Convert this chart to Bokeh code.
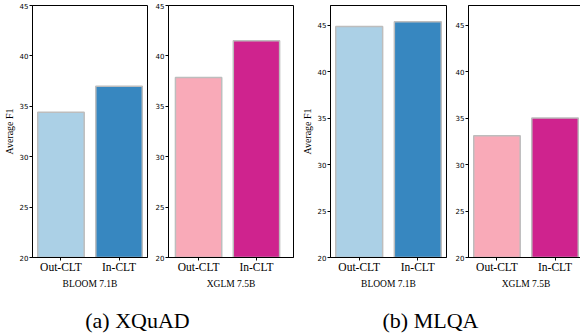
from bokeh.plotting import figure
from bokeh.layouts import row, column
from bokeh.models import Range1d, FixedTicker, ColumnDataSource
from bokeh.core.properties import value
from bokeh.embed import file_html
from bokeh.resources import INLINE

# ---- data ----
conditions = ["Out-CLT", "In-CLT"]
xquad_bloom = [34.4, 37.0]
xquad_xglm = [37.85, 41.5]
mlqa_bloom = [44.85, 45.35]
mlqa_xglm = [33.1, 35.0]
models = ["BLOOM 7.1B", "XGLM 7.5B"]
captions = ["(a) XQuAD", "(b) MLQA"]
y_ticks = [20, 25, 30, 35, 40, 45]
y_label = "Average F1"
blue_colors = ["#abd0e6", "#3787c0"]
pink_colors = ["#f9aab8", "#cf238e"]

SERIF = "Liberation Serif"
SANS = "DejaVu Sans"


def panel(values, colors, model, ylim, xlim, bl, fw, br, ylabel=None):
    p = figure(frame_width=fw, frame_height=252,
               min_border_left=bl, min_border_right=br,
               min_border_top=5, min_border_bottom=44,
               x_range=Range1d(*xlim), y_range=Range1d(*ylim),
               output_backend="svg", toolbar_location=None)
    src = ColumnDataSource(dict(x=list(range(len(conditions))), top=values,
                                color=colors))
    p.vbar(x="x", top="top", bottom=0, width=0.8, source=src,
           fill_color="color", line_color="#bdbdbd", line_width=1.5)
    p.xgrid.visible = False
    p.ygrid.visible = False
    p.outline_line_color = "black"
    p.outline_line_width = 1
    p.background_fill_color = "white"
    p.border_fill_color = "white"

    xa = p.xaxis[0]
    xa.ticker = FixedTicker(ticks=list(range(len(conditions))))
    xa.major_label_overrides = {i: c for i, c in enumerate(conditions)}
    xa.minor_tick_line_color = None
    xa.major_tick_in = 0
    xa.major_tick_out = 3
    xa.major_label_standoff = 0
    xa.major_label_text_font = SERIF
    xa.major_label_text_font_size = "11.5px"
    xa.major_label_text_color = "black"
    xa.axis_label = model
    xa.axis_label_text_font = SERIF
    xa.axis_label_text_font_size = "9.5px"
    xa.axis_label_text_font_style = "normal"
    xa.axis_label_text_color = "black"
    xa.axis_label_standoff = 3
    xa.axis_line_color = "black"

    ya = p.yaxis[0]
    ya.ticker = FixedTicker(ticks=y_ticks)
    ya.minor_tick_line_color = None
    ya.major_tick_in = 0
    ya.major_tick_out = 3
    ya.major_label_standoff = 1
    ya.major_label_text_font = SANS
    ya.major_label_text_font_size = "7px"
    ya.major_label_text_color = "black"
    ya.axis_line_color = "black"
    if ylabel:
        ya.axis_label = ylabel
        ya.axis_label_text_font = SERIF
        ya.axis_label_text_font_size = "10px"
        ya.axis_label_text_font_style = "normal"
        ya.axis_label_text_color = "black"
        ya.axis_label_standoff = 2
    return p


p1 = panel(xquad_bloom, blue_colors, models[0], (20, 45), (-0.49, 1.49), 28, 115, 2, y_label)
p2 = panel(xquad_xglm, pink_colors, models[1], (20, 45), (-0.52, 1.64), 19, 125, 1)
p3 = panel(mlqa_bloom, blue_colors, models[0], (20, 47.1), (-0.49, 1.49), 36, 116, 2, y_label)
p4 = panel(mlqa_xglm, pink_colors, models[1], (20, 47.1), (-0.49, 1.49), 20, 115, 1)

cap = figure(frame_width=580, frame_height=33, x_range=Range1d(0, 580), y_range=Range1d(0, 33),
             min_border=0, x_axis_location=None, y_axis_location=None,
             output_backend="svg", toolbar_location=None)
cap.xgrid.visible = False
cap.ygrid.visible = False
cap.outline_line_color = None
cap_src = ColumnDataSource(dict(x=[137, 430], y=[14, 14], text=captions))
cap.text(x="x", y="y", text="text", source=cap_src, text_align="center",
         text_baseline="alphabetic", text_font=value(SERIF),
         text_font_size="22px", text_color="black")

layout = column(row(p1, p2, p3, p4, spacing=0), cap, spacing=0,
                styles={"position": "absolute", "left": "0px", "top": "0px"})

open("out.html", "w").write(file_html(layout, INLINE))
